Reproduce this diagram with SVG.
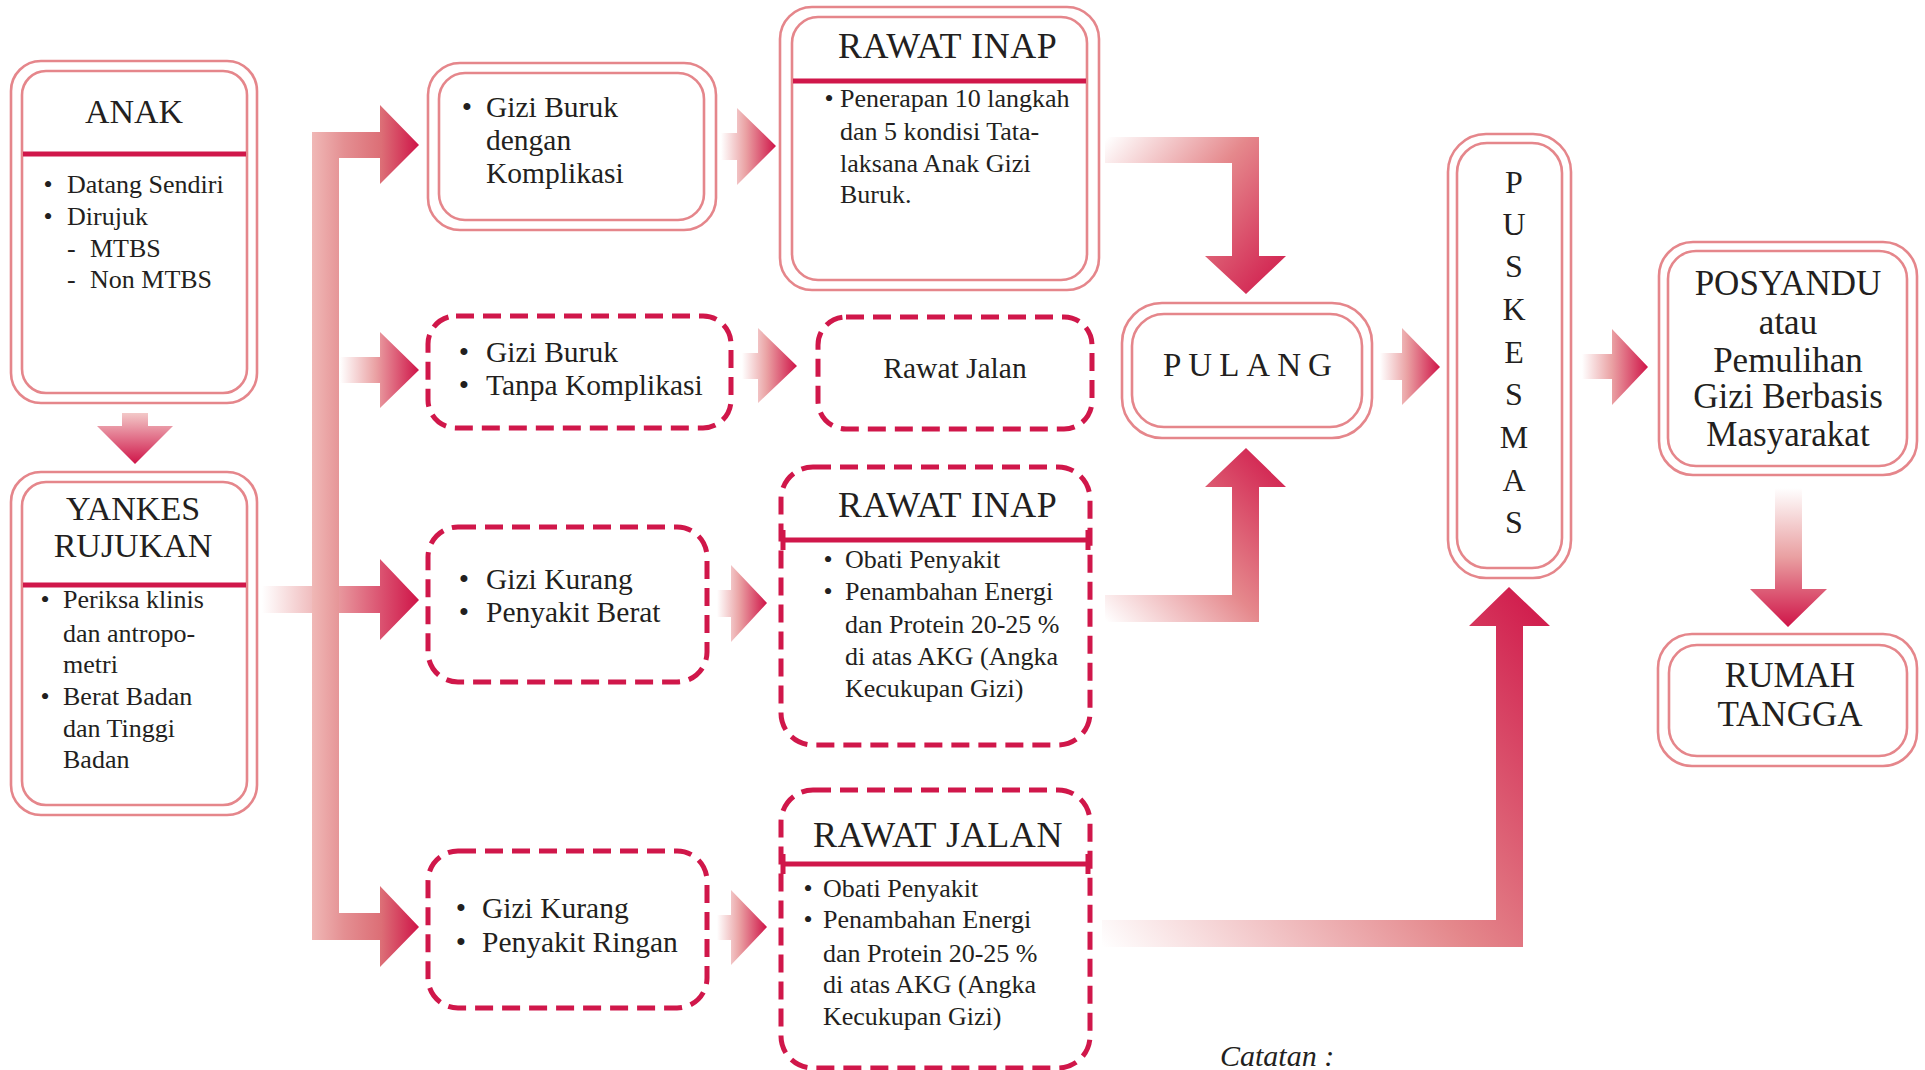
<svg xmlns="http://www.w3.org/2000/svg" width="1925" height="1070" viewBox="0 0 1925 1070">
  <defs>
    <style>
      .outer { fill: #ffffff; stroke: #e5868b; stroke-width: 2.6; }
      .inner { fill: none; stroke: #e5868b; stroke-width: 2.6; }
      .dash { fill: #ffffff; stroke: #d0174a; stroke-width: 5; stroke-dasharray: 18 9; }
      .hdr { stroke: #d0174a; stroke-width: 5; fill: none; }
      .t { font-family: "Liberation Serif", "Times New Roman", serif; fill: #231f20; }
      .title { font-size: 34px; }
      .rtitle { font-size: 36px; letter-spacing: 0.6px; }
      .body { font-size: 26px; }
      .gbody { font-size: 29.5px; }
      .mid { text-anchor: middle; }
      .big { font-size: 35px; text-anchor: middle; }
      .note { font-family: "Liberation Serif", "Times New Roman", serif; font-style: italic; font-size: 30px; fill: #231f20; }
    </style>
    <linearGradient id="gH" x1="0" y1="0" x2="1" y2="0">
      <stop offset="0" stop-color="#ffffff"/>
      <stop offset="0.45" stop-color="#eaa2a4"/>
      <stop offset="1" stop-color="#cf1448"/>
    </linearGradient>
    <linearGradient id="gTrunk" gradientUnits="userSpaceOnUse" x1="312" y1="0" x2="419" y2="0">
      <stop offset="0" stop-color="#f0b8b6"/>
      <stop offset="0.3" stop-color="#e48f92"/>
      <stop offset="0.65" stop-color="#dc6e76"/>
      <stop offset="1" stop-color="#cf1448"/>
    </linearGradient>
    <linearGradient id="gYankes" gradientUnits="userSpaceOnUse" x1="262" y1="0" x2="419" y2="0">
      <stop offset="0" stop-color="#ffffff"/>
      <stop offset="0.45" stop-color="#eaa2a4"/>
      <stop offset="1" stop-color="#cf1448"/>
    </linearGradient>
    <linearGradient id="gDown" x1="0" y1="0" x2="0" y2="1">
      <stop offset="0" stop-color="#ffffff"/>
      <stop offset="0.5" stop-color="#e99fa1"/>
      <stop offset="1" stop-color="#cf1448"/>
    </linearGradient>
    <linearGradient id="gAnak" x1="0" y1="0" x2="0" y2="1">
      <stop offset="0" stop-color="#f3c9c8"/>
      <stop offset="1" stop-color="#cf1448"/>
    </linearGradient>
    <linearGradient id="gK" gradientUnits="userSpaceOnUse" x1="1105" y1="140" x2="1286" y2="294">
      <stop offset="0" stop-color="#ffffff"/>
      <stop offset="0.45" stop-color="#e5888c"/>
      <stop offset="1" stop-color="#cf1448"/>
    </linearGradient>
    <linearGradient id="gL" gradientUnits="userSpaceOnUse" x1="1105" y1="620" x2="1286" y2="448">
      <stop offset="0" stop-color="#ffffff"/>
      <stop offset="0.45" stop-color="#e5888c"/>
      <stop offset="1" stop-color="#cf1448"/>
    </linearGradient>
    <linearGradient id="gM" gradientUnits="userSpaceOnUse" x1="1102" y1="947" x2="1550" y2="587">
      <stop offset="0" stop-color="#ffffff"/>
      <stop offset="0.5" stop-color="#e4878b"/>
      <stop offset="1" stop-color="#cf1448"/>
    </linearGradient>
  </defs>

  <!-- block arrows -->
  <g id="connectors">
    <path d="M122,413 H148 V426 H173 L135,464 L97,426 H122 Z" fill="url(#gAnak)"/>
    <path d="M262,586 H380 V559 L419,600 L380,640 V613 H262 Z" fill="url(#gYankes)"/>
    <path d="M340,357 H380 V332 L419,370 L380,408 V383 H340 Z" fill="url(#gH)"/>
    <path d="M312,132 H380 V105 L419,145 L380,184 V158 H339 V913 H380 V886 L419,927 L380,967 V940 H312 Z" fill="url(#gTrunk)"/>
    <path d="M721,133 H737 V108 L776,146 L737,185 V160 H721 Z" fill="url(#gH)"/>
    <path d="M742,353 H758 V328 L797,366 L758,403 V379 H742 Z" fill="url(#gH)"/>
    <path d="M717,590 H731 V565 L767,603 L731,642 V617 H717 Z" fill="url(#gH)"/>
    <path d="M717,915 H731 V890 L767,927 L731,965 V940 H717 Z" fill="url(#gH)"/>
    <path d="M1105,137 H1259 V256 H1286 L1246,294 L1205,256 H1232 V163 H1105 Z" fill="url(#gK)"/>
    <path d="M1105,595 H1232 V487 H1205 L1246,448 L1286,487 H1259 V622 H1105 Z" fill="url(#gL)"/>
    <path d="M1102,920 H1496 V626 H1469 L1509,587 L1550,626 H1523 V947 H1102 Z" fill="url(#gM)"/>
    <path d="M1380,353 H1402 V328 L1440,367 L1402,405 V380 H1380 Z" fill="url(#gH)"/>
    <path d="M1582,354 H1612 V329 L1648,367 L1612,405 V379 H1582 Z" fill="url(#gH)"/>
    <path d="M1775,488 H1802 V589 H1827 L1788,627 L1750,589 H1775 Z" fill="url(#gDown)"/>
  </g>

  <g id="anak">
    <rect class="outer" x="11" y="61" width="246" height="342" rx="30"/>
    <rect class="inner" x="22" y="71" width="225" height="322" rx="24"/>
    <line class="hdr" x1="23" y1="154" x2="246" y2="154"/>
    <text class="t title mid" x="134" y="123">ANAK</text>
    <text class="t body mid" x="48" y="193">•</text>
    <text class="t body" x="67" y="193">Datang Sendiri</text>
    <text class="t body mid" x="48" y="225">•</text>
    <text class="t body" x="67" y="225">Dirujuk</text>
    <text class="t body" x="67" y="257">-</text>
    <text class="t body" x="90" y="257">MTBS</text>
    <text class="t body" x="67" y="288">-</text>
    <text class="t body" x="90" y="288">Non MTBS</text>
  </g>

  <g id="yankes">
    <rect class="outer" x="11" y="472" width="246" height="343" rx="30"/>
    <rect class="inner" x="22" y="482" width="225" height="323" rx="24"/>
    <line class="hdr" x1="23" y1="585" x2="246" y2="585"/>
    <text class="t title mid" x="133" y="520">YANKES</text>
    <text class="t title mid" x="133" y="557">RUJUKAN</text>
    <text class="t body mid" x="45" y="608">•</text>
    <text class="t body" x="63" y="608">Periksa klinis</text>
    <text class="t body" x="63" y="642">dan antropo-</text>
    <text class="t body" x="63" y="673">metri</text>
    <text class="t body mid" x="45" y="705">•</text>
    <text class="t body" x="63" y="705">Berat Badan</text>
    <text class="t body" x="63" y="737">dan Tinggi</text>
    <text class="t body" x="63" y="768">Badan</text>
  </g>

  <g id="gizi-buruk-komplikasi">
    <rect class="outer" x="428" y="63" width="288" height="167" rx="32"/>
    <rect class="inner" x="439" y="73" width="265" height="147" rx="26"/>
    <text class="t gbody mid" x="467" y="117">•</text>
    <text class="t gbody" x="486" y="117">Gizi Buruk</text>
    <text class="t gbody" x="486" y="150">dengan</text>
    <text class="t gbody" x="486" y="183">Komplikasi</text>
  </g>

  <g id="rawat-inap-1">
    <rect class="outer" x="780" y="7" width="319" height="283" rx="32"/>
    <rect class="inner" x="792" y="17" width="295" height="263" rx="26"/>
    <line class="hdr" x1="793" y1="81" x2="1086" y2="81"/>
    <text class="t rtitle" x="838" y="58">RAWAT INAP</text>
    <text class="t body mid" x="829" y="107">•</text>
    <text class="t body" x="840" y="107">Penerapan 10 langkah</text>
    <text class="t body" x="840" y="140">dan 5 kondisi Tata-</text>
    <text class="t body" x="840" y="172">laksana Anak Gizi</text>
    <text class="t body" x="840" y="203">Buruk.</text>
  </g>

  <g id="gizi-buruk-tanpa">
    <rect class="dash" x="428" y="316" width="303" height="112" rx="28"/>
    <text class="t gbody mid" x="464" y="362">•</text>
    <text class="t gbody" x="486" y="362">Gizi Buruk</text>
    <text class="t gbody mid" x="464" y="395">•</text>
    <text class="t gbody" x="486" y="395">Tanpa Komplikasi</text>
  </g>

  <g id="rawat-jalan-1">
    <rect class="dash" x="818" y="317" width="274" height="112" rx="28"/>
    <text class="t gbody mid" x="955" y="378">Rawat Jalan</text>
  </g>

  <g id="gizi-kurang-berat">
    <rect class="dash" x="428" y="527" width="279" height="155" rx="30"/>
    <text class="t gbody mid" x="464" y="589">•</text>
    <text class="t gbody" x="486" y="589">Gizi Kurang</text>
    <text class="t gbody mid" x="464" y="622">•</text>
    <text class="t gbody" x="486" y="622">Penyakit Berat</text>
  </g>

  <g id="rawat-inap-2">
    <rect class="dash" x="781" y="467" width="309" height="278" rx="32"/>
    <path class="hdr" d="M781,540 H1090 M783,530 V550 M1088,530 V550"/>
    <text class="t rtitle" x="838" y="517">RAWAT INAP</text>
    <text class="t body mid" x="828" y="568">•</text>
    <text class="t body" x="845" y="568">Obati Penyakit</text>
    <text class="t body mid" x="828" y="600">•</text>
    <text class="t body" x="845" y="600">Penambahan Energi</text>
    <text class="t body" x="845" y="633">dan Protein 20-25 %</text>
    <text class="t body" x="845" y="665">di atas AKG (Angka</text>
    <text class="t body" x="845" y="697">Kecukupan Gizi)</text>
  </g>

  <g id="gizi-kurang-ringan">
    <rect class="dash" x="428" y="851" width="279" height="157" rx="30"/>
    <text class="t gbody mid" x="461" y="918">•</text>
    <text class="t gbody" x="482" y="918">Gizi Kurang</text>
    <text class="t gbody mid" x="461" y="952">•</text>
    <text class="t gbody" x="482" y="952">Penyakit Ringan</text>
  </g>

  <g id="rawat-jalan-2">
    <rect class="dash" x="781" y="790" width="309" height="278" rx="32"/>
    <path class="hdr" d="M781,864 H1090 M783,854 V874 M1088,854 V874"/>
    <text class="t rtitle" x="813" y="847">RAWAT JALAN</text>
    <text class="t body mid" x="808" y="897">•</text>
    <text class="t body" x="823" y="897">Obati Penyakit</text>
    <text class="t body mid" x="808" y="928">•</text>
    <text class="t body" x="823" y="928">Penambahan Energi</text>
    <text class="t body" x="823" y="962">dan Protein 20-25 %</text>
    <text class="t body" x="823" y="993">di atas AKG (Angka</text>
    <text class="t body" x="823" y="1025">Kecukupan Gizi)</text>
  </g>

  <g id="pulang">
    <rect class="outer" x="1122" y="303" width="250" height="135" rx="40"/>
    <rect class="inner" x="1132" y="314" width="230" height="113" rx="32"/>
    <text class="t" x="1163" y="376" font-size="33" letter-spacing="7">PULANG</text>
  </g>

  <g id="puskesmas">
    <rect class="outer" x="1448" y="134" width="123" height="444" rx="38"/>
    <rect class="inner" x="1457" y="143" width="105" height="425" rx="30"/>
    <g class="t mid" font-size="32">
      <text x="1514" y="193">P</text>
      <text x="1514" y="235">U</text>
      <text x="1514" y="277">S</text>
      <text x="1514" y="320">K</text>
      <text x="1514" y="363">E</text>
      <text x="1514" y="405">S</text>
      <text x="1514" y="448">M</text>
      <text x="1514" y="491">A</text>
      <text x="1514" y="533">S</text>
    </g>
  </g>

  <g id="posyandu">
    <rect class="outer" x="1659" y="242" width="258" height="233" rx="34"/>
    <rect class="inner" x="1668" y="251" width="239" height="215" rx="28"/>
    <text class="t big" x="1788" y="295">POSYANDU</text>
    <text class="t big" x="1788" y="334">atau</text>
    <text class="t big" x="1788" y="372">Pemulihan</text>
    <text class="t big" x="1788" y="408">Gizi Berbasis</text>
    <text class="t big" x="1788" y="446">Masyarakat</text>
  </g>

  <g id="rumah-tangga">
    <rect class="outer" x="1658" y="634" width="259" height="132" rx="34"/>
    <rect class="inner" x="1669" y="645" width="238" height="111" rx="28"/>
    <text class="t big" x="1790" y="687">RUMAH</text>
    <text class="t big" x="1790" y="726">TANGGA</text>
  </g>

  <text class="note" x="1220" y="1066">Catatan :</text>
</svg>
